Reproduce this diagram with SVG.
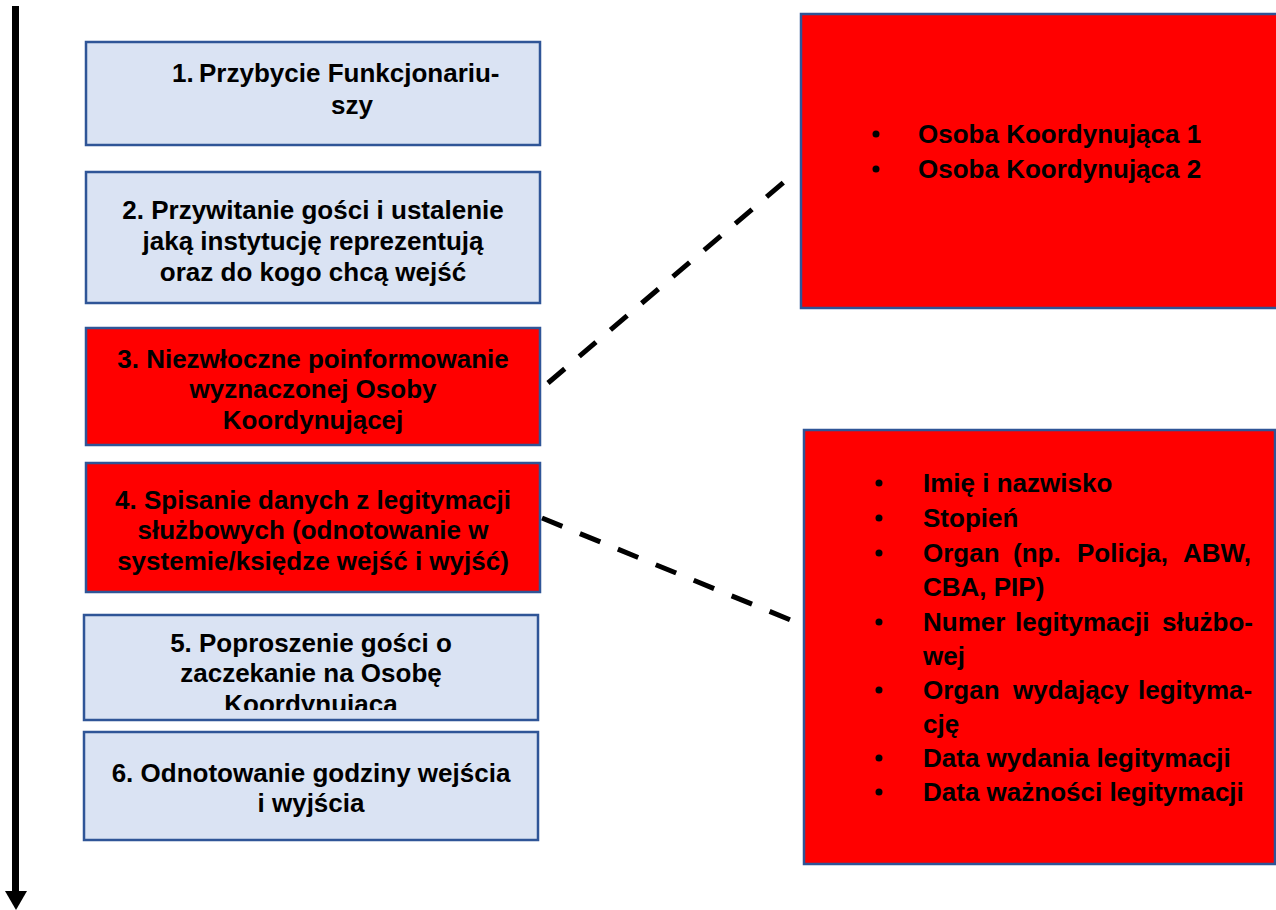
<svg xmlns="http://www.w3.org/2000/svg" width="1276" height="910" viewBox="0 0 1276 910">
<style>
.blue{fill:#DAE3F3;stroke:#2F5597;stroke-width:2.5}
.red{fill:#FF0000;stroke:#2F5597;stroke-width:2.5}
.t{font-family:"Liberation Sans",Arial,sans-serif;font-weight:bold;font-size:26px;fill:#000}
.c{text-anchor:middle}
.dash{stroke:#000;stroke-width:5;stroke-dasharray:22 19;fill:none}
</style>
<defs>
<clipPath id="clip5"><rect x="84" y="615" width="454" height="95"/></clipPath>
</defs>
<rect width="1276" height="910" fill="#fff"/>
<g id="timeline">
<rect x="12" y="6" width="7" height="887" fill="#000"/>
<polygon points="5,891 27,891 16,910" fill="#000"/>
</g>
<g id="connectors">
<line class="dash" x1="548" y1="383" x2="790" y2="177"/>
<line class="dash" x1="542" y1="518" x2="793" y2="621"/>
</g>
<g id="step1">
<rect class="blue" x="86" y="42" width="454" height="103"/>
<text class="t" y="82"><tspan x="172">1.</tspan><tspan x="199">Przybycie Funkcjonariu-</tspan></text>
<text class="t c" x="352" y="114">szy</text>
</g>
<g id="step2">
<rect class="blue" x="86" y="172" width="454" height="131"/>
<text class="t c" x="313" y="219">2. Przywitanie gości i ustalenie</text>
<text class="t c" x="313" y="250">jaką instytucję reprezentują</text>
<text class="t c" x="313" y="281">oraz do kogo chcą wejść</text>
</g>
<g id="step3">
<rect class="red" x="86" y="328" width="454" height="117"/>
<text class="t c" x="313" y="368">3. Niezwłoczne poinformowanie</text>
<text class="t c" x="313" y="398">wyznaczonej Osoby</text>
<text class="t c" x="313" y="429">Koordynującej</text>
</g>
<g id="step4">
<rect class="red" x="86" y="463" width="454" height="129"/>
<text class="t c" x="313" y="509">4. Spisanie danych z legitymacji</text>
<text class="t c" x="313" y="539">służbowych (odnotowanie w</text>
<text class="t c" x="313" y="570">systemie/księdze wejść i wyjść)</text>
</g>
<g id="step5">
<rect class="blue" x="84" y="615" width="454" height="105"/>
<g clip-path="url(#clip5)">
<text class="t c" x="311" y="652">5. Poproszenie gości o</text>
<text class="t c" x="311" y="682">zaczekanie na Osobę</text>
<text class="t c" x="311" y="713">Koordynująca</text>
</g>
</g>
<g id="step6">
<rect class="blue" x="84" y="732" width="454" height="108"/>
<text class="t c" x="311" y="782">6. Odnotowanie godziny wejścia</text>
<text class="t c" x="311" y="812">i wyjścia</text>
</g>
<g id="coordinators">
<rect class="red" x="801" y="14" width="480" height="294"/>
<circle cx="876" cy="134" r="3.5" fill="#000"/>
<circle cx="876" cy="169" r="3.5" fill="#000"/>
<text class="t" x="918" y="143">Osoba Koordynująca 1</text>
<text class="t" x="918" y="178">Osoba Koordynująca 2</text>
</g>
<g id="data">
<rect class="red" x="804" y="430" width="471" height="434"/>
<g fill="#000">
<circle cx="879" cy="483" r="3.5"/>
<circle cx="879" cy="518" r="3.5"/>
<circle cx="879" cy="553" r="3.5"/>
<circle cx="879" cy="622" r="3.5"/>
<circle cx="879" cy="690" r="3.5"/>
<circle cx="879" cy="758" r="3.5"/>
<circle cx="879" cy="792" r="3.5"/>
</g>
<text class="t" x="923" y="492">Imię i nazwisko</text>
<text class="t" x="923" y="527">Stopień</text>
<text class="t" y="562"><tspan x="923">Organ</tspan><tspan x="1013">(np.</tspan><tspan x="1077">Policja,</tspan><tspan x="1183">ABW,</tspan></text>
<text class="t" x="923" y="596">CBA, PIP)</text>
<text class="t" y="631"><tspan x="923">Numer</tspan><tspan x="1015">legitymacji</tspan><tspan x="1162">służbo-</tspan></text>
<text class="t" x="923" y="665">wej</text>
<text class="t" y="699"><tspan x="923">Organ</tspan><tspan x="1013">wydający</tspan><tspan x="1138">legityma-</tspan></text>
<text class="t" x="923" y="733">cję</text>
<text class="t" x="923" y="767">Data wydania legitymacji</text>
<text class="t" x="923" y="801">Data ważności legitymacji</text>
</g>
</svg>
